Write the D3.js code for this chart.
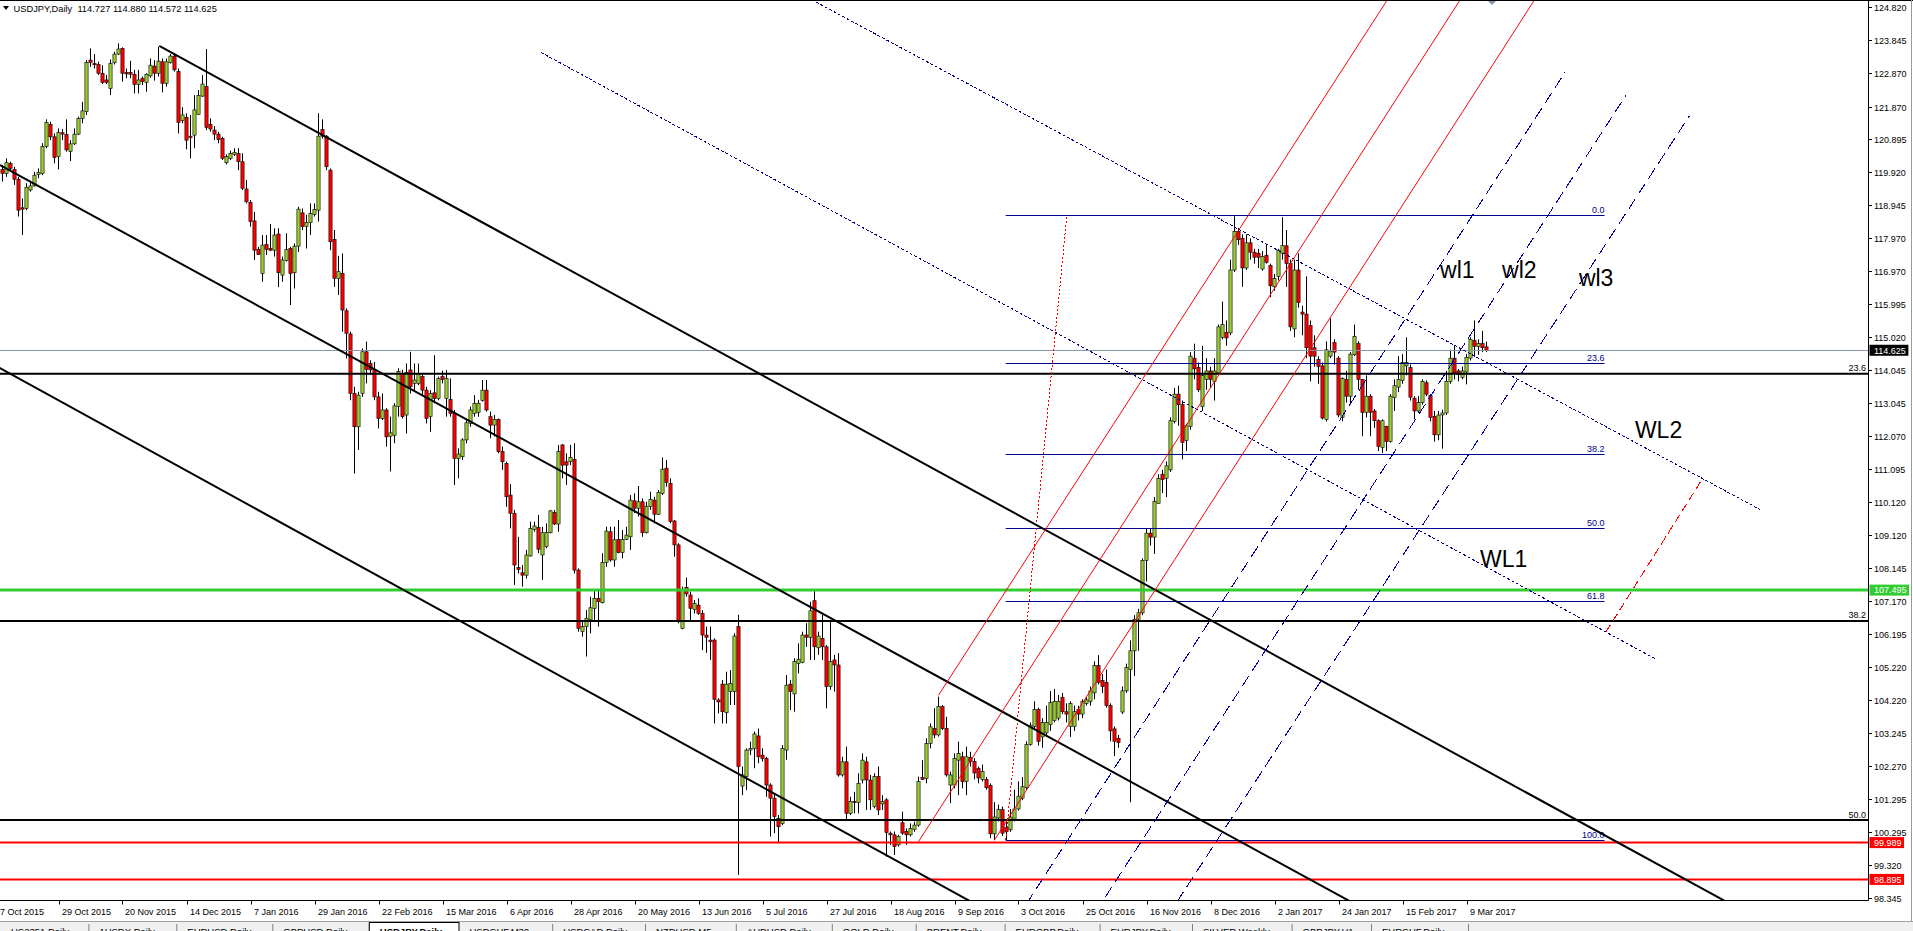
<!DOCTYPE html>
<html><head><meta charset="utf-8">
<script src="https://cdn.jsdelivr.net/npm/d3@7"></script>
<style>
html,body{margin:0;padding:0;background:#fff;overflow:hidden}
svg{display:block}
text{font-family:"Liberation Sans",Arial,sans-serif}
</style></head><body>
<svg id="chart" width="1913" height="931"></svg>
<script>
// ---------------- DATA ----------------
const symbolTitle = "USDJPY,Daily";
const lastQuote = ["114.727", "114.880", "114.572", "114.625"];

// daily candles [open, high, low, close], oldest first (9 Oct 2015 .. 14 Mar 2017)
const candles = [
[120.00,120.13,119.64,119.88],[119.88,120.33,119.78,120.20],[120.18,120.23,119.98,120.03],[120.00,120.08,119.54,119.71],
[119.71,119.78,118.60,118.79],[118.86,119.14,118.05,118.82],[118.84,119.59,118.79,119.47],[119.39,119.64,119.34,119.51],
[119.51,119.93,119.49,119.83],[119.85,120.03,119.74,119.91],[119.88,120.78,119.83,120.68],[120.68,121.49,120.63,121.40],
[121.34,121.42,120.87,120.97],[120.97,121.07,120.18,120.35],[120.38,121.22,120.00,121.10],[121.09,121.20,120.87,121.05],
[121.04,121.49,120.53,120.58],[120.53,120.87,120.25,120.76],[120.76,121.22,120.73,121.05],[121.05,121.57,121.02,121.52],
[121.52,122.01,121.37,121.74],[121.72,123.25,121.62,123.18],[123.25,123.60,123.05,123.18],[123.15,123.43,123.00,123.11],
[123.12,123.20,122.81,122.86],[122.86,123.10,122.54,122.58],[122.66,122.81,122.54,122.59],[122.41,123.27,122.21,123.15],
[123.17,123.50,123.12,123.43],[123.43,123.75,123.40,123.58],[123.60,123.63,122.61,122.86],[122.88,123.00,122.71,122.84],
[122.88,123.23,122.71,122.83],[122.83,122.96,122.26,122.53],[122.53,122.96,122.26,122.66],[122.71,122.76,122.51,122.61],
[122.59,122.86,122.31,122.83],[122.78,123.30,122.73,123.10],[123.07,123.25,122.64,122.86],[122.86,123.65,122.76,123.22],
[123.20,123.30,122.29,122.56],[122.56,123.30,122.46,123.20],[123.17,123.43,123.15,123.37],[123.37,123.45,122.91,122.96],
[122.91,123.00,121.07,121.39],[121.45,121.85,121.37,121.62],[121.55,121.67,120.60,120.87],[120.99,121.62,120.33,120.95],
[121.02,122.21,120.63,121.77],[121.64,122.36,121.62,122.20],[122.18,122.81,122.16,122.54],[122.46,123.58,121.17,121.25],
[121.34,121.52,121.12,121.20],[121.17,121.29,120.87,121.05],[121.05,121.12,120.78,120.89],[120.92,120.97,120.28,120.33],
[120.20,120.45,120.15,120.38],[120.33,120.56,120.28,120.48],[120.45,120.63,120.40,120.51],[120.48,120.63,119.98,120.23],
[120.23,120.48,119.39,119.44],[119.42,119.69,118.99,119.04],[119.02,119.09,118.30,118.45],[118.47,118.74,117.31,117.60],
[117.63,117.70,117.46,117.47],[116.91,118.05,116.66,117.75],[117.77,118.05,117.46,117.62],[117.65,118.38,117.58,117.60],
[117.60,118.25,117.41,118.05],[118.08,118.25,116.50,116.93],[116.86,117.41,116.66,117.31],[117.29,118.10,117.26,117.62],
[117.65,117.70,115.97,116.91],[116.93,117.80,116.46,117.72],[117.72,118.89,117.55,118.82],[118.71,118.84,118.20,118.30],
[118.30,118.65,117.65,118.42],[118.42,118.99,118.05,118.69],[118.66,118.99,118.60,118.81],[118.79,121.67,118.45,120.99],
[121.19,121.49,120.92,120.99],[120.99,121.02,119.98,120.08],[119.98,120.03,117.60,117.85],[117.92,118.20,116.51,116.76],
[116.76,117.43,116.27,116.96],[116.91,117.50,115.18,115.82],[115.80,115.87,114.38,115.13],[115.11,115.18,113.14,113.34],
[113.34,113.54,110.96,112.35],[112.35,113.39,111.66,113.29],[113.34,114.68,113.24,114.58],[114.58,114.88,113.64,114.06],
[114.23,114.33,113.89,114.04],[114.04,114.28,113.14,113.24],[113.24,113.39,112.30,112.60],[112.60,113.34,112.55,112.85],
[112.85,112.90,111.76,112.05],[112.07,112.65,111.02,112.17],[112.10,113.05,111.86,112.97],[112.95,114.09,112.65,113.99],
[113.94,114.04,112.60,112.65],[112.70,114.23,112.15,113.96],[114.04,114.58,113.34,113.54],[113.64,114.23,113.44,113.74],
[113.64,114.23,113.59,113.94],[113.84,113.94,113.29,113.44],[113.44,113.54,112.45,112.60],[112.65,113.44,112.20,113.34],
[113.36,114.48,113.05,113.19],[113.19,113.84,113.14,113.79],[113.84,114.02,113.64,113.76],[113.19,114.04,112.65,113.79],
[113.16,113.79,112.65,112.75],[112.75,112.85,110.62,111.41],[111.41,111.71,110.82,111.54],[111.46,112.01,111.36,111.96],
[111.96,112.55,111.86,112.47],[112.45,112.95,112.35,112.85],[112.75,113.29,112.65,113.05],[112.77,113.15,112.65,113.05],
[113.13,113.74,113.10,113.44],[113.44,113.74,112.80,112.85],[112.65,112.80,112.01,112.40],[112.40,112.70,112.06,112.57],
[112.57,112.60,111.56,111.61],[111.61,111.76,111.07,111.31],[111.26,111.31,109.97,110.27],[110.32,110.65,109.33,109.78],
[109.78,109.88,107.65,108.24],[108.17,109.08,107.99,108.11],[108.01,108.24,107.60,107.94],[107.94,108.69,107.84,108.54],
[108.51,109.53,108.49,109.33],[109.30,109.53,109.23,109.40],[109.36,109.73,108.59,108.71],[108.54,109.38,107.80,109.20],
[108.79,109.48,108.74,109.21],[109.20,109.88,109.18,109.85],[109.80,109.88,109.43,109.46],[109.46,111.81,109.23,111.61],
[111.81,111.84,110.82,111.21],[111.31,111.56,110.62,111.21],[111.31,111.81,111.21,111.44],[111.38,111.86,107.99,108.09],
[108.09,108.14,106.26,106.36],[106.26,106.56,106.11,106.41],[106.41,106.90,105.52,106.66],[106.61,107.30,106.21,106.97],
[106.95,107.48,106.61,107.25],[107.25,107.50,106.41,107.15],[107.12,108.59,107.10,108.31],[108.31,109.38,108.19,109.25],
[109.23,109.38,108.34,108.39],[108.39,109.38,108.19,108.99],[109.00,109.58,108.59,108.61],[108.61,109.28,108.44,109.00],
[109.00,109.38,108.98,109.13],[109.08,110.32,108.69,110.17],[110.15,110.37,109.78,109.93],[109.93,110.59,109.68,110.12],
[110.12,110.22,109.08,109.20],[109.20,110.12,109.18,109.99],[109.98,110.42,109.88,110.19],[110.17,110.27,109.48,109.75],
[109.75,110.47,109.73,110.40],[110.37,111.44,110.32,111.09],[111.12,111.36,110.57,110.70],[110.67,110.82,109.48,109.53],
[109.55,109.58,108.49,108.84],[108.84,108.89,106.51,106.59],[106.36,107.60,106.33,107.52],[107.58,107.87,107.30,107.38],
[107.35,107.45,106.59,106.95],[106.92,107.20,106.80,107.10],[107.05,107.25,106.76,106.80],[106.80,106.90,105.71,106.16],
[106.16,106.41,105.63,106.09],[106.01,106.41,105.42,105.96],[106.01,106.06,103.53,104.25],[104.23,104.28,103.83,104.17],
[104.70,104.82,103.53,103.88],[103.85,105.07,103.53,104.70],[104.48,105.12,104.08,104.72],[104.48,106.21,104.08,106.13],
[106.41,106.76,99.03,102.25],[101.67,102.25,101.40,102.00],[101.95,102.79,101.55,102.74],[102.74,102.99,102.59,102.79],
[102.79,103.29,102.20,103.22],[103.16,103.38,102.35,102.54],[102.59,102.79,102.40,102.49],[102.49,102.54,101.35,101.70],
[101.70,101.75,100.17,101.31],[101.31,101.45,100.27,100.76],[100.71,100.81,99.97,100.46],[100.56,102.89,100.51,102.79],
[102.74,104.97,102.45,104.67],[104.70,104.82,103.93,104.48],[104.41,105.47,103.88,105.37],[105.32,105.91,105.02,105.44],
[105.34,106.26,105.32,106.16],[106.16,106.51,105.81,106.09],[106.09,107.15,105.42,106.88],[107.18,107.50,105.42,105.81],
[105.78,106.26,105.57,106.13],[106.06,106.76,105.42,105.81],[105.81,105.86,103.98,104.63],[104.63,106.61,104.53,105.37],
[105.42,105.57,104.48,105.27],[105.27,105.62,101.95,102.00],[102.00,102.54,101.95,102.39],[102.39,102.84,100.66,100.86],
[100.86,101.35,100.81,101.21],[101.21,101.50,100.86,101.18],[101.18,102.05,100.86,101.75],[101.85,102.64,101.75,102.44],
[102.39,102.54,100.96,101.85],[101.85,102.00,100.96,101.26],[101.06,102.05,101.01,101.95],[101.95,102.25,100.81,100.96],
[101.14,101.40,100.96,101.21],[101.26,101.31,99.57,100.29],[100.27,100.32,99.92,100.22],[100.22,100.32,99.62,99.87],
[99.92,100.22,99.87,100.17],[100.58,100.91,100.22,100.27],[100.32,100.41,99.92,100.22],[100.22,100.56,100.17,100.41],
[100.38,100.61,100.31,100.51],[100.51,101.95,100.46,101.80],[101.93,102.44,101.85,101.87],[101.90,103.09,101.75,102.94],
[102.94,103.53,102.79,103.43],[103.38,103.98,103.09,103.19],[103.19,104.33,103.14,104.03],[104.03,104.08,103.34,103.38],
[103.38,103.73,101.95,102.00],[101.70,102.10,101.16,102.00],[101.70,102.64,101.60,102.49],[102.44,102.99,101.40,102.64],
[102.54,102.69,101.60,101.80],[101.80,102.84,101.40,102.54],[102.52,102.69,102.25,102.40],[102.40,102.50,101.87,102.06],
[102.19,102.25,101.75,101.91],[101.87,102.31,101.81,102.10],[101.87,101.94,101.56,101.62],[101.69,101.75,100.12,100.25],
[100.25,101.19,100.06,100.75],[100.72,101.12,100.62,100.97],[100.97,101.06,100.19,100.27],[100.44,100.69,100.06,100.31],
[100.37,100.99,100.31,100.75],[100.69,101.56,100.62,100.99],[100.99,101.81,100.94,101.37],[101.31,101.94,101.25,101.65],
[101.62,103.00,101.56,102.90],[102.90,103.56,102.87,103.48],[103.44,104.19,103.37,103.94],[103.94,104.00,102.87,103.00],
[103.13,103.69,102.81,103.56],[103.25,104.06,103.13,103.56],[103.50,104.50,103.31,104.15],[103.62,104.56,103.56,104.19],
[103.69,104.38,103.62,104.19],[104.31,104.44,103.81,103.88],[103.88,104.13,103.56,103.81],[103.44,104.19,103.13,104.13],
[103.44,104.06,103.31,103.88],[103.94,104.06,103.62,103.81],[103.81,104.25,103.69,104.19],[104.13,104.31,104.06,104.23],
[104.19,104.63,104.06,104.50],[104.44,105.38,104.25,105.25],[105.25,105.56,104.69,104.75],[104.81,105.00,104.44,104.63],
[104.75,105.13,104.00,104.06],[104.06,104.13,103.00,103.31],[103.37,103.44,102.56,103.00],[103.09,103.19,102.81,102.96],
[103.87,104.63,103.81,104.50],[104.50,105.31,104.44,105.19],[105.13,106.00,101.19,105.69],[105.69,106.75,104.94,106.63],
[106.63,106.94,105.69,106.82],[106.82,108.44,106.75,108.38],[108.38,109.32,107.75,109.19],[109.19,109.32,108.82,109.07],
[109.07,110.26,108.57,110.13],[110.07,110.94,110.07,110.82],[110.94,111.07,110.38,110.78],[110.82,111.32,110.26,111.19],
[111.07,112.63,111.01,112.53],[112.51,113.51,112.45,113.32],[113.32,113.57,112.38,113.01],[113.01,113.13,111.38,111.88],
[111.94,112.44,111.63,112.38],[112.36,114.57,112.26,114.45],[114.39,114.82,113.76,114.07],[114.11,114.26,113.38,113.45],
[112.95,114.76,112.82,113.88],[113.76,114.39,113.45,114.01],[114.01,114.14,113.51,113.76],[113.70,114.39,113.13,114.01],
[113.95,115.39,113.88,115.32],[115.01,116.07,114.95,115.39],[115.16,115.51,114.76,114.99],[115.14,117.32,115.07,117.01],
[117.01,118.61,116.95,118.16],[118.16,118.26,117.76,117.91],[117.95,118.07,116.51,117.07],[117.07,118.07,117.01,117.82],
[117.82,117.95,117.32,117.54],[117.54,117.64,117.20,117.39],[117.51,117.64,117.07,117.39],[117.04,117.57,116.99,117.41],
[117.45,117.79,117.20,117.24],[117.14,117.20,116.20,116.54],[116.51,116.89,116.39,116.76],[116.82,117.64,116.70,117.60],
[117.51,118.58,117.32,117.74],[117.73,118.20,116.51,117.20],[117.20,117.32,115.20,115.32],[115.26,117.32,115.01,117.01],
[117.01,117.51,115.89,116.04],[115.76,115.95,115.07,115.70],[115.70,116.82,114.39,114.70],[115.36,115.51,113.70,114.45],
[114.70,115.07,114.14,114.45],[114.35,114.45,113.63,114.14],[114.16,114.26,112.57,112.61],[112.57,114.89,112.51,114.64],
[114.45,115.57,114.39,114.60],[114.86,114.95,114.20,114.57],[114.39,114.45,112.63,112.70],[112.63,113.82,112.51,113.78],
[113.76,114.01,113.07,113.26],[113.26,114.57,113.01,114.51],[114.49,115.39,114.45,115.04],[114.82,114.89,113.45,113.76],
[113.76,113.76,112.07,112.78],[112.78,113.88,112.63,113.26],[113.26,113.32,112.07,112.78],[112.82,112.88,112.32,112.53],
[112.53,112.57,111.63,111.76],[111.73,112.57,111.57,112.53],[112.36,112.38,111.63,111.91],[111.91,113.32,111.88,113.26],
[113.22,113.76,112.82,113.57],[113.53,114.45,113.38,113.76],[113.73,114.51,113.63,114.26],[114.16,115.01,113.88,114.26],
[114.11,114.20,113.13,113.23],[113.20,113.26,112.57,112.82],[112.82,113.26,112.76,113.07],[113.07,113.76,113.01,113.70],
[113.66,113.73,113.26,113.32],[113.28,113.32,112.51,112.63],[112.66,112.82,111.91,112.11],[112.11,112.82,111.95,112.70],
[112.70,112.86,111.70,112.76],[112.76,114.01,112.70,113.70],[113.70,114.64,113.63,114.39],[114.39,114.76,113.76,113.95],
[114.01,114.07,113.70,113.91],[113.82,114.14,113.76,114.01],[113.98,114.51,113.61,114.41],[114.39,115.01,114.32,114.95],
[114.91,115.51,114.45,114.74],[114.74,114.95,114.49,114.82],[114.82,115.20,114.57,114.70],[114.727,114.880,114.572,114.625]
];

const priceTicks = [124.820,123.845,122.870,121.870,120.895,119.920,118.945,117.970,116.970,115.995,115.020,114.045,
  113.045,112.070,111.095,110.120,109.120,108.145,107.170,106.195,105.220,104.220,103.245,102.270,101.295,100.295,99.320,98.345];

const dateLabels = ["7 Oct 2015","29 Oct 2015","20 Nov 2015","14 Dec 2015","7 Jan 2016","29 Jan 2016","22 Feb 2016",
  "15 Mar 2016","6 Apr 2016","28 Apr 2016","20 May 2016","13 Jun 2016","5 Jul 2016","27 Jul 2016","18 Aug 2016",
  "9 Sep 2016","3 Oct 2016","25 Oct 2016","16 Nov 2016","8 Dec 2016","2 Jan 2017","24 Jan 2017","15 Feb 2017","9 Mar 2017"];
const dateLabelFirstBar = -2, dateLabelEvery = 16;

// long-term fibonacci levels (black) and their labels
const blackLevels = [113.93, 106.58, 100.66];
const blackLevelLabels = ["23.6", "38.2", "50.0"];
const greenLevel = 107.495;
const redLevels = [99.989, 98.895];
const bidPrice = 114.625;

// short fibonacci (Sep 2016 low -> Dec 2016 high)
const fibLevels = [118.64, 114.25, 111.54, 109.35, 107.16, 100.06];
const fibLabels = ["0.0", "23.6", "38.2", "50.0", "61.8", "100.0"];
const fibBars = [250.8, 400.5];
const fibDiagonal = [[250.8, 100.06], [266.1, 118.64]];

// trend objects: anchor points [bar, price]
const channelLines = [
  {a: [39.2, 123.67], b: [429.9, 98.30], extA: false, extB: true},
  {a: [-0.6, 120.13], b: [336.0, 98.30], extA: true, extB: true},
  {a: [-0.6, 114.09], b: [241.4, 98.28], extA: true, extB: true}
];
const pitchforkLines = [
  {a: [234.0, 104.37], b: [346.2, 125.04], extA: false, extB: true},
  {a: [229.0, 100.02], b: [364.4, 125.04], extA: false, extB: true},
  {a: [248.0, 100.07], b: [383.0, 125.04], extA: false, extB: true}
];
const warningLines = [
  {a: [256.6, 98.28], b: [390.6, 122.88], extA: true, extB: false},
  {a: [275.2, 98.28], b: [405.9, 122.21], extA: true, extB: false},
  {a: [293.9, 98.28], b: [421.7, 121.59], extA: true, extB: false}
];
const wlLines = [
  {a: [204.4, 124.91], b: [439.4, 109.89], extA: true, extB: false},
  {a: [134.6, 123.48], b: [413.2, 105.45], extA: false, extB: false}
];
const projectionLine = {a: [400.8, 106.24], b: [424.8, 110.77], extA: false, extB: false};

const annotations = [
  {text: "wl1", bar: 359.4, price: 116.77},
  {text: "wl2", bar: 374.9, price: 116.77},
  {text: "wl3", bar: 394.1, price: 116.53},
  {text: "WL2", bar: 408.1, price: 112.02},
  {text: "WL1", bar: 369.4, price: 108.18}
];

const tabNames = ["US2351,Daily","1USDX,Daily","EURUSD,Daily","GBPUSD,Daily","USDJPY,Daily","USDCHF,M30","USDCAD,Daily",
  "NZDUSD,M5","AUDUSD,Daily","GOLD,Daily","BRENT,Daily","EURGBP,Daily","EURJPY,Daily","SILVER,Weekly","GBPJPY,H1","EURCHF,Daily"];
const tabEdges = [0, 88.4, 176.3, 272.3, 368.8, 458.5, 552.2, 645, 735.8, 831.8, 915.7, 1004.6, 1099.6, 1192, 1291.6, 1371, 1468];
const activeTab = 4;

// ---------------- LAYOUT ----------------
const W = 1913, H = 931;
const plotR = 1868, plotB = 900.5;
const svg = d3.select("#chart");
const x = d3.scaleLinear().domain([-0.625, 466.375]).range([0, plotR]);
const y = d3.scaleLinear().domain([98.268, 125.037]).range([plotB, 0]);

svg.append("rect").attr("width", W).attr("height", H).attr("fill", "#fff");
svg.append("defs").append("clipPath").attr("id", "plotClip")
  .append("rect").attr("x", 0).attr("y", 0).attr("width", plotR).attr("height", plotB);

const plot = svg.append("g").attr("clip-path", "url(#plotClip)");

// candles
const cg = plot.append("g");
cg.selectAll("line.wick").data(candles).join("line").attr("class", "wick")
  .attr("x1", (d, i) => x(i)).attr("x2", (d, i) => x(i))
  .attr("y1", d => y(d[1])).attr("y2", d => y(d[2]))
  .attr("stroke", "#000").attr("stroke-width", 1);
cg.selectAll("rect.body").data(candles).join("rect").attr("class", "body")
  .attr("x", (d, i) => x(i) - 1.6).attr("width", 3.2)
  .attr("y", d => y(Math.max(d[0], d[3])))
  .attr("height", d => Math.max(1, y(Math.min(d[0], d[3])) - y(Math.max(d[0], d[3]))))
  .attr("fill", d => d[3] > d[0] ? "#9acd32" : "#ff0000")
  .attr("stroke", "#000").attr("stroke-width", 0.6);

// helpers
function pts(L) {
  const s = (L.b[1] - L.a[1]) / (L.b[0] - L.a[0]);
  const k0 = L.extA ? L.a[0] - 600 : L.a[0];
  const k1 = L.extB ? L.b[0] + 600 : L.b[0];
  return [[k0, L.a[1] + s * (k0 - L.a[0])], [k1, L.a[1] + s * (k1 - L.a[0])]];
}
const lineGen = d3.line().x(d => x(d[0])).y(d => y(d[1]));
function drawLine(L, color, width, dash, crisp) {
  const p = plot.append("path").attr("d", lineGen(pts(L))).attr("fill", "none")
    .attr("stroke", color).attr("stroke-width", width);
  if (dash) p.attr("stroke-dasharray", dash);
  if (crisp) p.attr("shape-rendering", "crispEdges");
}

// horizontal levels
blackLevels.forEach(v => plot.append("line").attr("x1", 0).attr("x2", plotR).attr("y1", y(v)).attr("y2", y(v))
  .attr("stroke", "#000").attr("stroke-width", 2));
redLevels.forEach(v => plot.append("line").attr("x1", 0).attr("x2", plotR).attr("y1", y(v)).attr("y2", y(v))
  .attr("stroke", "#ff0000").attr("stroke-width", 2));
plot.append("line").attr("x1", 0).attr("x2", plotR).attr("y1", y(greenLevel)).attr("y2", y(greenLevel))
  .attr("stroke", "#32cd32").attr("stroke-width", 3);
plot.append("line").attr("x1", 0).attr("x2", plotR).attr("y1", Math.round(y(bidPrice)) + 0.5).attr("y2", Math.round(y(bidPrice)) + 0.5)
  .attr("stroke", "#8796a5").attr("stroke-width", 1);

// fibonacci (short)
fibLevels.forEach((v, i) => {
  plot.append("line").attr("x1", x(fibBars[0])).attr("x2", x(fibBars[1]))
    .attr("y1", Math.round(y(v)) + 0.5).attr("y2", Math.round(y(v)) + 0.5)
    .attr("stroke", "#00008b").attr("stroke-width", 1);
  plot.append("text").attr("x", x(fibBars[1])).attr("y", y(v) - 2).attr("text-anchor", "end")
    .attr("font-size", 9).attr("fill", "#00008b").text(fibLabels[i]);
});
drawLine({a: fibDiagonal[0], b: fibDiagonal[1]}, "#ff0000", 1, "2,2", true);

// trend lines
channelLines.forEach(L => drawLine(L, "#000", 2));
pitchforkLines.forEach(L => drawLine(L, "#ff0000", 1));
warningLines.forEach(L => drawLine(L, "#0000a0", 1, "12,6", true));
wlLines.forEach(L => drawLine(L, "#00008b", 1, "3,2", true));
drawLine(projectionLine, "#ff0000", 1, "9,4", true);

// black level labels (right side)
blackLevels.forEach((v, i) => plot.append("text").attr("x", plotR - 2).attr("y", y(v) - 2.5)
  .attr("text-anchor", "end").attr("font-size", 9).attr("fill", "#000").text(blackLevelLabels[i]));

// annotations
annotations.forEach(a => plot.append("text").attr("x", x(a.bar)).attr("y", y(a.price))
  .attr("font-family", "DejaVu Sans, sans-serif").attr("font-size", 23).attr("fill", "#000").text(a.text));

// shift marker
plot.append("path").attr("d", "M1487,0 L1497,0 L1492,5 Z").attr("fill", "#8796a5");

// ---------------- AXES / FRAME ----------------
svg.append("line").attr("x1", 0).attr("x2", W).attr("y1", 0.5).attr("y2", 0.5).attr("stroke", "#000");
svg.append("line").attr("x1", plotR + 0.5).attr("x2", plotR + 0.5).attr("y1", 0).attr("y2", plotB).attr("stroke", "#000");
svg.append("line").attr("x1", 0).attr("x2", plotR + 0.5).attr("y1", plotB).attr("y2", plotB).attr("stroke", "#000");
svg.append("line").attr("x1", 1911.5).attr("x2", 1911.5).attr("y1", 0).attr("y2", 921).attr("stroke", "#9a9a9a");

// price axis
const pa = svg.append("g");
priceTicks.forEach(v => {
  const yy = Math.round(y(v)) + 0.5;
  pa.append("line").attr("x1", plotR).attr("x2", plotR + 4).attr("y1", yy).attr("y2", yy).attr("stroke", "#000");
  pa.append("text").attr("x", plotR + 6).attr("y", yy + 3.3).attr("font-size", 9).attr("fill", "#000")
    .text(v.toFixed(3));
});
function priceBox(v, bg) {
  const g = svg.append("g");
  const t = g.append("text").attr("x", plotR + 6).attr("y", y(v) + 3.3).attr("font-size", 9).attr("fill", "#fff")
    .text(v.toFixed(3));
  const w = t.node().getComputedTextLength();
  g.insert("rect", "text").attr("x", plotR + 1.5).attr("y", y(v) - 5.5).attr("width", w + 7).attr("height", 11).attr("fill", bg);
}
priceBox(greenLevel, "#32cd32");
redLevels.forEach(v => priceBox(v, "#ff0000"));
priceBox(bidPrice, "#000");

// time axis
const ta = svg.append("g");
dateLabels.forEach((s, i) => {
  const k = dateLabelFirstBar + i * dateLabelEvery;
  const xx = Math.round(x(k)) + 0.5;
  ta.append("line").attr("x1", xx).attr("x2", xx).attr("y1", plotB).attr("y2", plotB + 4).attr("stroke", "#000");
  ta.append("text").attr("x", Math.max(0, xx + 2.5)).attr("y", 914.5).attr("font-size", 9).attr("fill", "#000").text(s);
});

// header
svg.append("path").attr("d", "M3,6 L9,6 L6,10 Z").attr("fill", "#000");
svg.append("text").attr("x", 13.5).attr("y", 12).attr("font-size", 9.3).attr("fill", "#000")
  .attr("xml:space", "preserve")
  .text(symbolTitle + "  " + lastQuote.join(" "));

// tab bar (window strip, text cut by the window edge as in the screenshot)
const tb = svg.append("g");
tb.append("rect").attr("x", 0).attr("y", 921).attr("width", W).attr("height", 10).attr("fill", "#f0f0f0");
tb.append("line").attr("x1", 0).attr("x2", W).attr("y1", 921.5).attr("y2", 921.5).attr("stroke", "#a0a0a0");
tabNames.forEach((n, i) => {
  const x0 = tabEdges[i], x1 = tabEdges[i + 1];
  if (i === activeTab) {
    tb.append("rect").attr("x", x0 + 0.5).attr("y", 922.5).attr("width", x1 - x0).attr("height", 10)
      .attr("fill", "#fff").attr("stroke", "#000");
  }
  tb.append("line").attr("x1", x1 + 0.5).attr("x2", x1 + 0.5).attr("y1", 924).attr("y2", 931).attr("stroke", "#808080");
  tb.append("text").attr("x", x0 + 11).attr("y", 935).attr("font-size", 9.5)
    .attr("font-weight", i === activeTab ? "bold" : "normal").attr("fill", "#000").text(n);
});
</script>
</body></html>
